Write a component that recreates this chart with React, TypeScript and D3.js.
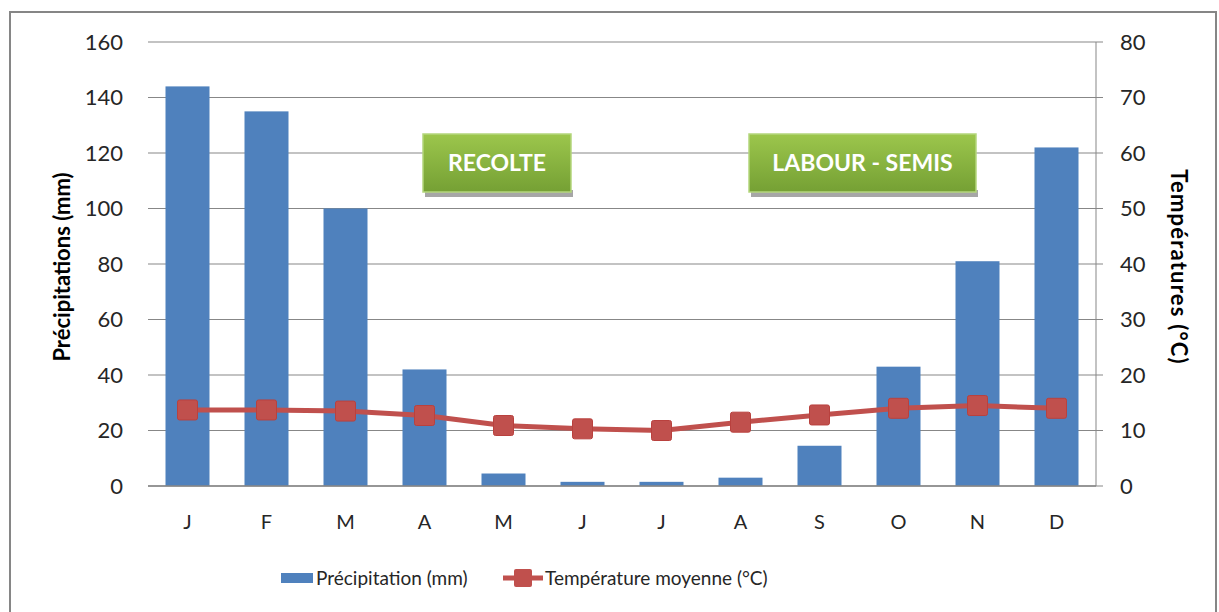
import { useMemo } from "react";
import * as d3 from "d3";

const months = ["J", "F", "M", "A", "M", "J", "J", "A", "S", "O", "N", "D"];
const precipitation = [144, 135, 100, 42, 4.5, 1.5, 1.5, 3, 14.5, 43, 81, 122];
const temperature = [13.7, 13.7, 13.5, 12.7, 10.9, 10.3, 10, 11.5, 12.8, 14, 14.5, 14];
const leftTicks = [0, 20, 40, 60, 80, 100, 120, 140, 160];
const rightTicks = [0, 10, 20, 30, 40, 50, 60, 70, 80];
const periods = [
  { label: "RECOLTE", from: 423, to: 571 },
  { label: "LABOUR - SEMIS", from: 749, to: 976 },
];

const W = 1219;
const H = 612;
const FONT = "Lato, 'Open Sans', sans-serif";

export default function App() {
  const left = 148;
  const right = 1096;
  const top = 42;
  const bottom = 486;

  const idx = months.map((_, i) => i);
  const x = useMemo(
    () => d3.scaleBand<number>().domain(idx).range([left, right]).paddingInner(0.44).paddingOuter(0.22),
    []
  );
  const yL = d3.scaleLinear().domain([0, 160]).range([bottom, top]);
  const yR = d3.scaleLinear().domain([0, 80]).range([bottom, top]);
  const cx = (i: number) => (x(i) ?? 0) + x.bandwidth() / 2;

  const line = d3
    .line<number>()
    .x((_, i) => cx(i))
    .y((d) => yR(d));

  return (
    <svg
      width={W}
      height={H}
      style={{ position: "absolute", left: 0, top: 0, background: "#fff" }}
      fontFamily={FONT}
    >
      <defs>
        <linearGradient id="green" x1="0" y1="0" x2="0" y2="1">
          <stop offset="0%" stopColor="#9cc64c" />
          <stop offset="100%" stopColor="#75a034" />
        </linearGradient>
      </defs>
      <rect x={10} y={12} width={1206} height={620} fill="#fff" stroke="#868686" strokeWidth={2} />

      {/* gridlines */}
      {leftTicks.map((t) => (
        <line key={t} x1={left} x2={right} y1={yL(t)} y2={yL(t)} stroke="#878787" strokeWidth={1} />
      ))}

      {/* bars */}
      {precipitation.map((v, i) => {
        const bw = 44;
        return (
          <rect key={i} x={cx(i) - bw / 2} y={yL(v)} width={bw} height={bottom - yL(v)} fill="#4f81bd" />
        );
      })}

      {/* x axis */}
      <line x1={left} x2={right} y1={bottom} y2={bottom} stroke="#878787" strokeWidth={1.5} />

      {/* right axis */}
      <line x1={right} x2={right} y1={top} y2={bottom} stroke="#878787" strokeWidth={1} />
      {rightTicks.map((t) => (
        <g key={t}>
          <line x1={right} x2={right + 7} y1={yR(t)} y2={yR(t)} stroke="#878787" />
          <text x={1120} y={yR(t)} dy="0.36em" fontSize={22} fill="#262626">
            {t}
          </text>
        </g>
      ))}
      {leftTicks.map((t) => (
        <text key={t} x={123} y={yL(t)} dy="0.36em" textAnchor="end" fontSize={22} fill="#262626">
          {t}
        </text>
      ))}
      {months.map((m, i) => (
        <text key={i} x={cx(i)} y={522} dy="0.36em" textAnchor="middle" fontSize={20} fill="#262626">
          {m}
        </text>
      ))}

      {/* temperature line */}
      <path d={line(temperature) ?? ""} fill="none" stroke="#c0504d" strokeWidth={5} />
      {temperature.map((v, i) => (
        <rect key={i} x={cx(i) - 10} y={yR(v) - 10} width={20} height={20} rx={2} fill="#c0504d" stroke="#b9413e" />
      ))}

      {/* period boxes */}
      {periods.map((p) => (
        <g key={p.label}>
          <rect x={p.from + 2} y={190} width={p.to - p.from} height={7} fill="#a6a6a6" />
          <rect x={p.from} y={134} width={p.to - p.from} height={58} fill="url(#green)" stroke="#b4d67c" strokeWidth={1.5} />
          <text
            x={(p.from + p.to) / 2}
            y={163}
            dy="0.36em"
            textAnchor="middle"
            fontSize={23}
            fontWeight="bold"
            fill="#fff"
          >
            {p.label}
          </text>
        </g>
      ))}

      {/* axis titles */}
      <text
        transform={`translate(70,267) rotate(-90)`}
        textAnchor="middle"
        fontSize={22}
        fontWeight="bold"
        fill="#000"
      >
        Précipitations (mm)
      </text>
      <text
        transform={`translate(1171,267) rotate(90)`}
        textAnchor="middle"
        fontSize={22}
        fontWeight="bold"
        letterSpacing={1.2}
        fill="#000"
      >
        Températures (°C)
      </text>

      {/* legend */}
      <rect x={281} y={573} width={32} height={10} fill="#4f81bd" />
      <text x={316} y={578} dy="0.36em" fontSize={19} fill="#262626">
        Précipitation (mm)
      </text>
      <line x1={503} x2={543} y1={578} y2={578} stroke="#c0504d" strokeWidth={5} />
      <rect x={514} y={569} width={18} height={18} rx={2} fill="#c0504d" />
      <text x={545} y={578} dy="0.36em" fontSize={19} fill="#262626">
        Température moyenne (°C)
      </text>
    </svg>
  );
}
